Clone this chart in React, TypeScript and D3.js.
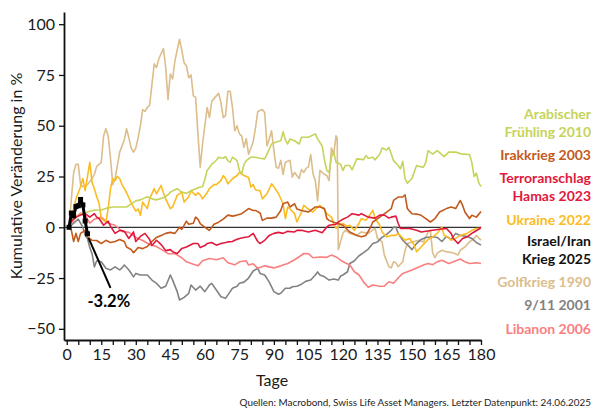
import * as React from 'react';
import * as d3 from 'd3';

type Pt = [number, number];

// [Tag, kumulative Veränderung in %]
const golfkrieg1990: Pt[] = [
  [1, 0], [2, 14], [3, 27], [4, 31], [5, 31], [6, 21], [7, 20], [9, 21], [11, 24], [12, 26], [13, 30], [15, 32],
  [16, 45], [17, 48.5], [18, 45], [19, 34], [20, 21], [21, 24], [23, 37], [25, 43], [26, 48.5], [27, 44], [28, 39],
  [29, 37], [30, 39], [31, 44], [32, 50], [33, 58], [34, 57], [35, 59], [36, 60], [38, 80.5], [39, 78.6], [40, 83],
  [42, 88], [43, 78.6], [44, 63], [45, 75.5], [46, 73], [47, 82], [49, 92.6], [50, 87], [51, 81], [52, 79.4],
  [53, 73.7], [54, 75], [55, 64.7], [56, 64], [57, 46], [58, 29.6], [59, 41], [61, 59], [62, 54], [63, 62],
  [65, 64.7], [66, 66], [67, 61.4], [68, 54], [69, 55], [70, 67], [71, 67], [72, 59], [73, 47.5], [74, 50], [75, 46],
  [76, 45], [77, 39.4], [78, 43.6], [79, 36], [81, 42], [82, 49], [83, 57], [85, 58], [86, 56.5], [87, 40],
  [88, 43.6], [89, 47.5], [90, 37.7], [91, 29.6], [92, 29], [93, 33], [94, 26], [95, 32], [97, 33], [98, 24.7],
  [99, 27], [101, 24], [102, 28.4], [103, 27], [104, 29], [105, 29.6], [106, 35.8], [107, 26.4], [108, 23], [109, 13],
  [110, 28], [112, 26], [113, 25.5], [114, 23], [115, 39], [116, 36], [117, 45], [117.5, 44], [118, -11], [119, -7],
  [120, -3], [121, -1.5], [123, -3], [126, -4], [128, -2.3], [131, -3], [134, -0.5], [135, -5.4], [137, -7.2],
  [138, -13.7], [140, -19.4], [141, -20], [142, -17], [143, -17.5], [144, -19.4], [146, -17], [147, -11.3], [148, -8],
  [151, -7], [153, -6.4], [155, -7.2], [157, -2.3], [158, -1.5], [159, -12.7], [160, -15], [161, -12.7], [163, -11.3],
  [165, -12], [168, -12.7], [170, -13.7], [171, -11.3], [173, -9.7], [175, -7.2], [177, -5.4], [178, -4], [180, -6.4],
];

const elf2001: Pt[] = [
  [1, 0], [3, 2], [5, 4], [7, 0], [8, -4], [9, -5.5], [10, -10], [11, -13], [12, -19.5], [13, -16.5], [15, -17],
  [17, -20.2], [19, -21], [21, -19.5], [23, -21], [24, -20], [25, -18.6], [27, -21], [29, -24.4], [30, -22.7],
  [32, -23.5], [35, -23.5], [37, -26], [39, -27.6], [41, -30], [43, -29], [45, -23.5], [46, -26], [48, -31.7],
  [49, -35.8], [51, -34.5], [53, -32.5], [54, -28.4], [56, -30.9], [58, -29], [60, -31.7], [62, -28.4], [63, -27.6],
  [65, -30.9], [67, -34.2], [69, -35], [71, -31.7], [72, -30], [74, -29], [75, -27.6], [77, -27], [79, -25],
  [81, -21.5], [83, -20.2], [84, -22.7], [86, -23.5], [88, -27], [90, -31.7], [92, -33], [93, -32.5], [95, -30],
  [97, -30], [98, -29.3], [100, -29], [102, -28], [104, -26.5], [106, -26], [108, -23.5], [109, -22], [110, -23.5],
  [112, -24.4], [114, -26], [116, -25.5], [118, -26], [119, -24], [120, -23.5], [122, -21.9], [123, -17.8],
  [125, -16.5], [127, -14], [129, -12.5], [131, -10.7], [133, -8], [135, -7.2], [137, -5], [139, -3.5], [141, -1.5],
  [142, 0], [143, 0.1], [144, -3], [146, -6.4], [148, -8.5], [150, -11], [152, -8], [154, -6], [156, -5], [159, -4.7],
  [161, -5], [163, -7], [165, -4.5], [167, -6], [169, -3], [171, -4], [174, -4.5], [176, -5.5], [178, -7.5], [180, -8.8],
];

const libanon2006: Pt[] = [
  [1, 0], [2, 2], [4, 5], [6, 7], [8, 6], [10, 2], [12, 4], [15, 5], [18, 2], [21, 1], [24, -2], [27, -2.5],
  [30, -5], [33, -6.5], [36, -8.5], [39, -9.5], [42, -11.5], [44, -13], [47, -13], [50, -15], [52, -17], [55, -18.2],
  [57, -19], [59, -16.5], [62, -15.4], [65, -16], [68, -15], [70, -17.5], [73, -18.5], [75, -17], [78, -16.5],
  [79, -18.6], [81, -18], [83, -20.2], [86, -19], [88, -19.5], [90, -20], [93, -19], [96, -17.8], [99, -16],
  [101, -14.5], [103, -12.9], [105, -13], [107, -15], [110, -14.6], [113, -14.8], [115, -13.7], [117, -14.6],
  [119, -16.2], [121, -17.5], [123, -18.6], [125, -21.9], [127, -23.5], [129, -27], [131, -29.5], [133, -28.4],
  [136, -29], [138, -29], [140, -26.8], [142, -27.6], [144, -25], [146, -22.7], [148, -21.9], [150, -21], [152, -20],
  [155, -18.6], [157, -17.8], [159, -18.4], [161, -17], [163, -16.2], [166, -17.8], [168, -17], [171, -15.6],
  [173, -17], [175, -17.8], [178, -17.5], [180, -17.8],
];

const ukraine2022: Pt[] = [
  [1, 0], [2, 4], [3, 9], [4, 14], [6, 20], [7, 24], [8, 18], [9, 25], [10, 32], [11, 22], [12, 19], [13, 15],
  [14, 12], [15, 4.3], [17, 2.6], [18, 9.2], [19, 19], [20, 24], [21, 23], [22, 25], [23, 23.9], [24, 21], [25, 19],
  [26, 17], [28, 12], [30, 8], [31, 9], [32, 5.9], [33, 12.4], [35, 9.2], [36, 14], [38, 19], [39, 16.5], [41, 20.6],
  [42, 17], [43, 14], [45, 9.2], [46, 10], [48, 15.7], [50, 17.3], [51, 12.4], [53, 15], [54, 18], [56, 15.7],
  [57, 17], [58, 16], [59, 14], [61, 17], [62, 19], [64, 21], [65, 21], [67, 23], [68, 25.5], [69, 24], [70, 21.4],
  [72, 23.9], [74, 25.5], [75, 27], [77, 25.5], [79, 24.5], [80, 19.8], [81, 21], [82, 18.5], [84, 18], [85, 14],
  [87, 16.5], [89, 21.4], [90, 20], [92, 16.5], [94, 11.6], [95, 4.3], [96, 10], [97, 9], [99, 6.7], [100, 2.6],
  [102, 7.5], [103, 10.8], [105, 9], [107, 7.5], [109, 10], [110, 10.8], [112, 8.5], [113, 6.7], [115, 5], [116, 1.8],
  [117, -0.6], [118, 1], [120, 1.8], [122, 0.5], [123, 1], [125, -1.5], [127, 2], [128, 4.3], [130, 3.4], [132, 6.7],
  [133, 8.3], [134, 4.3], [136, 1], [137, -2.3], [139, -4.7], [141, -4], [143, -4], [144, -3], [147, -6.4],
  [149, -5.5], [151, -8.8], [152, -12], [154, -9.7], [156, -7.2], [157, -6], [159, -4.7], [161, -3], [163, 0.1],
  [164, -4], [166, -5], [167, -6.4], [169, -5.5], [171, -4], [174, -3], [176, -1.5], [178, -0.6], [180, -0.6],
];

const arabischerFruehling2010: Pt[] = [
  [1, 0], [2, 3], [4, 5], [6, 6.5], [9, 7.5], [12, 8.5], [15, 8.5], [17, 9.3], [20, 10], [22, 10], [24, 10],
  [26, 10], [28, 11.5], [30, 13], [32, 13.5], [35, 15], [37, 14], [39, 13.5], [42, 14.5], [44, 16], [45, 17.3],
  [47, 18.5], [48, 19], [50, 17.3], [52, 16.7], [54, 18], [56, 19], [58, 19.8], [59, 20], [60, 23.5], [61, 28],
  [63, 31], [65, 33], [66, 34.5], [68, 34], [69, 34.8], [70, 32.8], [71, 32], [72, 34.5], [74, 32.8], [75, 28],
  [76, 26.3], [77, 31], [78, 32.8], [80, 34.5], [82, 34.5], [84, 34], [86, 33.7], [87, 36], [89, 41], [91, 42],
  [93, 42.6], [94, 47], [95, 43], [96, 41], [97, 43.5], [99, 42.6], [101, 41], [102, 44.3], [105, 44.3], [108, 46],
  [109, 43.5], [111, 40], [112, 33], [113, 28], [114, 27], [115, 34.5], [116, 37], [117, 32], [119, 31], [120, 28],
  [121, 30.4], [123, 30.4], [124, 28.3], [126, 33.7], [129, 33.3], [130, 35.3], [131, 34], [133, 34.5], [134, 33.2],
  [136, 36], [137, 39], [139, 38], [140, 39.4], [142, 32.8], [144, 30.4], [145, 28.8], [146, 32.5], [147, 24],
  [148, 21.7], [150, 24], [152, 30.4], [153, 30], [155, 29.6], [156, 32], [157, 37.7], [159, 36], [161, 37.7],
  [164, 34.8], [166, 37], [169, 37], [172, 36], [175, 35.8], [176, 32], [177, 25], [178, 26.6], [179, 22], [180, 20],
];

const irakkrieg2003: Pt[] = [
  [1, 0], [2, -1.5], [3, -7], [4, -3], [5, -7], [6, -3], [8, -1.5], [9, -4.7], [11, -6.4], [13, -6.5], [15, -8],
  [17, -6.4], [19, -7.5], [21, -7], [23, -6], [25, -7], [26, -9.7], [28, -11], [29, -12.5], [31, -10], [33, -10.5],
  [35, -9.5], [37, -7], [39, -5], [41, -4], [43, -3], [45, -2.5], [47, -3], [49, 0], [50, -1], [52, 3], [53, 1.5],
  [55, 2], [56, 5], [57, 4], [58, 1.8], [60, 0], [62, -1.5], [64, 1.5], [66, 2.5], [68, 4], [70, 6], [72, 5.5],
  [74, 6], [76, 6.7], [78, 8.3], [79, 9.2], [81, 8.3], [82, 8.3], [84, 7], [85, 3.4], [87, 4.5], [89, 4.5], [91, 5],
  [93, 8.3], [94, 11.6], [96, 12.4], [97, 10], [99, 11.6], [100, 9], [102, 8.3], [105, 7.5], [108, 10], [110, 10],
  [112, 9.2], [113, 4.3], [114, 3.4], [116, 2.5], [118, 1.8], [120, 1], [123, -2.3], [126, -4], [128, -4.7],
  [130, -4], [132, 0], [133, 2.6], [136, 5], [139, 7.5], [141, 9.2], [142, 13.2], [144, 14.9], [146, 14.9], [147, 16],
  [148, 9.2], [150, 6.7], [152, 6.5], [154, 5.9], [156, 4.3], [158, 2.6], [160, 4.3], [162, 7.5], [165, 9.2],
  [167, 10], [169, 9.2], [171, 13.2], [172, 10.8], [173, 7.5], [175, 4.3], [176, 5.9], [178, 5], [180, 7.8],
];

const hamas2023: Pt[] = [
  [1, 0], [2, 3], [4, 5], [6, 6], [8, 6.7], [10, 5], [12, 6.7], [13, 5], [14, 4.3], [16, 1], [18, 3], [19, 0.5],
  [21, -3], [23, -1.5], [25, -2], [27, -5.5], [29, -2.3], [30, -7], [32, -4.5], [34, -3], [36, -6], [37, -9],
  [39, -6.4], [41, -8.5], [43, -11.5], [45, -11], [46, -12], [48, -12.9], [50, -10.4], [52, -9.7], [55, -8], [57, -8],
  [58, -10], [60, -9], [61, -8], [63, -7.5], [65, -8.8], [67, -8], [69, -7.5], [70, -7.2], [72, -7], [73, -6.4],
  [75, -5.5], [77, -5], [79, -4.7], [81, -3], [83, -7], [84, -8], [86, -6.4], [88, -4], [90, -3], [92, -2.5], [94, -3],
  [96, -2], [99, -2.3], [100, -1.5], [102, -1.5], [105, -2.3], [108, -1.5], [111, -2.7], [113, 0.1], [114, 1],
  [117, 1.5], [118, 2.5], [120, 4], [122, 5], [124, 6.7], [127, 6], [128, 6.7], [131, 5], [134, 4.5], [136, 6],
  [138, 6], [140, 4.5], [141, 5], [143, 5.5], [144, 2], [145, -0.6], [149, -0.6], [152, -1.5], [154, -2.3],
  [159, -1.5], [162, -1], [165, -0.6], [167, -3], [168, -5.5], [170, -8], [172, -5.5], [174, -4.7], [176, -3],
  [177, -2.3], [179, -1], [180, 0.1],
];

const israelIran2025: Pt[] = [
  [1, 0], [2, 7], [3, 5.6], [4, 10.2], [5, 10.6], [6, 13.7], [7, 11], [8, 3.1], [9, -3.2],
];

const series = [
  { name: 'Golfkrieg 1990', data: golfkrieg1990, color: '#dcbd8c' },
  { name: '9/11 2001', data: elf2001, color: '#828282' },
  { name: 'Libanon 2006', data: libanon2006, color: '#fa7f7f' },
  { name: 'Ukraine 2022', data: ukraine2022, color: '#fbbc22' },
  { name: 'Arabischer Frühling 2010', data: arabischerFruehling2010, color: '#c6d35a' },
  { name: 'Irakkrieg 2003', data: irakkrieg2003, color: '#c4591c' },
  { name: 'Terroranschlag Hamas 2023', data: hamas2023, color: '#e1193d' },
];

// legend from top to bottom, text lines per entry
const legend = [
  { lines: ['Arabischer', 'Frühling 2010'], color: '#c6d35a' },
  { lines: ['Irakkrieg 2003'], color: '#c4591c' },
  { lines: ['Terroranschlag', 'Hamas 2023'], color: '#e1193d' },
  { lines: ['Ukraine 2022'], color: '#fbbc22' },
  { lines: ['Israel/Iran', 'Krieg 2025'], color: '#111111' },
  { lines: ['Golfkrieg 1990'], color: '#dcbd8c' },
  { lines: ['9/11 2001'], color: '#828282' },
  { lines: ['Libanon 2006'], color: '#fa7f7f' },
];

const yTicks = [-50, -25, 0, 25, 50, 75, 100];
const xLabelTicks = [0, 15, 30, 45, 60, 75, 90, 105, 120, 135, 150, 165, 180];
const xMinorTicks = d3.range(0, 181, 5);
const lastValueLabel = '-3.2%';
const sourceText = 'Quellen: Macrobond, Swiss Life Asset Managers. Letzter Datenpunkt: 24.06.2025';

const W = 594;
const H = 410;
const FONT = 'Lato, "Open Sans", sans-serif';

export default function App() {
  const svgRef = React.useRef<SVGSVGElement>(null);

  React.useEffect(() => {
    if (!svgRef.current) return;
    const svg = d3.select(svgRef.current);
    svg.selectAll('*').remove();

    const x = d3.scaleLinear().domain([-1.2, 180]).range([64, 481]);
    const y = d3.scaleLinear().domain([-55.5, 106]).range([340, 12]);

    // zero line
    svg
      .append('line')
      .attr('x1', x.range()[0])
      .attr('x2', x.range()[1])
      .attr('y1', y(0))
      .attr('y2', y(0))
      .attr('stroke', '#333')
      .attr('stroke-width', 1.3);

    const line = d3
      .line<Pt>()
      .x((d) => x(d[0]))
      .y((d) => y(d[1]));

    series.forEach((s) => {
      svg
        .append('path')
        .datum(s.data)
        .attr('d', line)
        .attr('fill', 'none')
        .attr('stroke', s.color)
        .attr('stroke-width', 1.6)
        .attr('stroke-linejoin', 'round');
    });

    // Israel/Iran: thick black with square markers
    svg
      .append('path')
      .datum(israelIran2025)
      .attr('d', line)
      .attr('fill', 'none')
      .attr('stroke', '#000')
      .attr('stroke-width', 3)
      .attr('stroke-linejoin', 'round');
    svg
      .selectAll('rect.mk')
      .data(israelIran2025)
      .enter()
      .append('rect')
      .attr('class', 'mk')
      .attr('x', (d) => x(d[0]) - 2.5)
      .attr('y', (d) => y(d[1]) - 2.5)
      .attr('width', 5)
      .attr('height', 5)
      .attr('fill', '#000');

    // annotation for the last value
    const last = israelIran2025[israelIran2025.length - 1];
    const lx = x(last[0]);
    const ly = y(last[1]);
    svg
      .append('line')
      .attr('x1', lx + 1)
      .attr('y1', ly + 4)
      .attr('x2', lx + 23)
      .attr('y2', ly + 54)
      .attr('stroke', '#000')
      .attr('stroke-width', 2);
    svg
      .append('text')
      .attr('x', lx)
      .attr('y', ly + 73)
      .attr('font-family', FONT)
      .attr('font-weight', 700)
      .attr('font-size', 16.5)
      .attr('fill', '#000')
      .text(lastValueLabel);

    // axes
    const yAxis = d3.axisLeft(y).tickValues(yTicks).tickSize(5).tickSizeOuter(0).tickPadding(4);
    const yG = svg.append('g').attr('transform', `translate(${x.range()[0]},0)`).call(yAxis);
    const xAxis = d3
      .axisBottom(x)
      .tickValues(xMinorTicks)
      .tickFormat((d) => (xLabelTicks.includes(Number(d)) ? String(d) : ''))
      .tickSize(5)
      .tickSizeOuter(0)
      .tickPadding(4);
    const xG = svg.append('g').attr('transform', `translate(0,${y.range()[0]})`).call(xAxis);

    [xG, yG].forEach((g) => {
      g.select('.domain').attr('stroke', '#111').attr('stroke-width', 1.8);
      g.selectAll('.tick line').attr('stroke', '#111').attr('stroke-width', 1.3);
      g.selectAll('.tick text')
        .attr('font-family', FONT)
        .attr('font-size', 16)
        .attr('fill', '#1a1a1a');
    });

    // axis titles
    svg
      .append('text')
      .attr('x', 272)
      .attr('y', 386)
      .attr('text-anchor', 'middle')
      .attr('font-family', FONT)
      .attr('font-size', 16)
      .attr('fill', '#1a1a1a')
      .text('Tage');
    svg
      .append('text')
      .attr('transform', 'translate(22,176) rotate(-90)')
      .attr('text-anchor', 'middle')
      .attr('font-family', FONT)
      .attr('font-size', 16)
      .attr('fill', '#1a1a1a')
      .text('Kumulative Veränderung in %');

    // legend
    const lineH = 18;
    const gaps = [119, 160, 183, 225, 246, 287, 310, 334];
    legend.forEach((l, i) => {
      l.lines.forEach((t, j) => {
        svg
          .append('text')
          .attr('x', 591)
          .attr('y', gaps[i] + j * lineH)
          .attr('text-anchor', 'end')
          .attr('font-family', FONT)
          .attr('font-weight', 700)
          .attr('font-size', 14)
          .attr('fill', l.color)
          .text(t);
      });
    });

    svg
      .append('text')
      .attr('x', 591)
      .attr('y', 406)
      .attr('text-anchor', 'end')
      .attr('font-family', FONT)
      .attr('font-size', 9.9)
      .attr('fill', '#222')
      .text(sourceText);
  }, []);

  return (
    <svg
      ref={svgRef}
      width={W}
      height={H}
      style={{ position: 'absolute', left: 0, top: 0, background: '#fff' }}
    />
  );
}
